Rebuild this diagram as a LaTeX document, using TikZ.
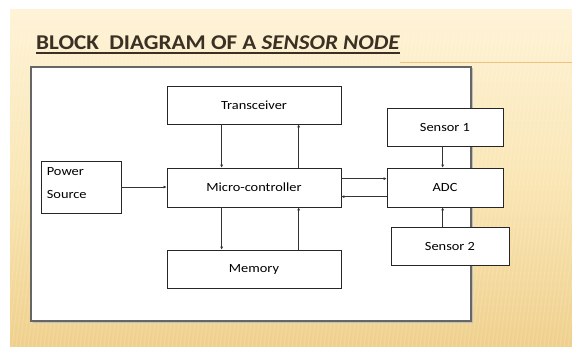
\documentclass[tikz,border=0pt]{standalone}
\usepackage{fontspec}
\setmainfont{Carlito}
\newfontfamily\boxfont[FakeStretch=1.15]{Carlito}
\newfontfamily\titlefont[FakeStretch=1.1]{Carlito}
\usetikzlibrary{arrows.meta,calc}
\definecolor{bgtop}{HTML}{FEF3D6}
\definecolor{bgmid}{HTML}{FAE6B4}
\definecolor{bgbot}{HTML}{EFD08C}
\definecolor{titlecol}{HTML}{3A3024}
\definecolor{rulecol}{HTML}{EEC27A}
\begin{document}
\begin{tikzpicture}[x=1pt,y=-1pt,
  box/.style={draw=black!85, line width=0.7pt, fill=white, inner sep=0pt,
    font=\boxfont\fontsize{12.5}{15}\selectfont},
  arr/.style={line width=0.6pt, draw=black!80, -{Latex[length=3pt,width=3pt]}}]
\useasboundingbox (0,0) rectangle (572,347);
\fill[white] (0,0) rectangle (572,347);
% background
\shade[top color=bgtop, bottom color=bgbot, middle color=bgmid] (10,10) rectangle (572,347);
\begin{scope}
  \clip (10,10) rectangle (572,347);
  \foreach \i in {-100,-96,...,600} {
    \draw[white, opacity=0.14, line width=1.2pt] (\i,347) -- ++(40,-337);
  }
\end{scope}
\draw[rulecol, line width=0.8pt] (400,62.5) -- (572,62.5);
% title
\node[anchor=base west, inner sep=0pt, text=titlecol,
  font=\titlefont\bfseries\fontsize{21}{25}\selectfont] (title) at (36,50)
  {BLOCK\ \ DIAGRAM OF A \textit{SENSOR NODE}};
\draw[titlecol, line width=1.4pt] ([yshift=-3pt]title.base west) -- ([yshift=-3pt]title.base east);
% panel
\fill[black!25] (32.5,68.5) rectangle (472.5,322.5);
\draw[fill=white, draw=black!60, line width=1.2pt] (31,67) rectangle (471,321);
% boxes
\node[box, minimum width=174pt, minimum height=38pt] (tr) at (254,105) {Transceiver};
\node[box, minimum width=174pt, minimum height=39pt] (mc) at (254,187.5) {Micro-controller};
\node[box, minimum width=174pt, minimum height=38pt] (mem) at (254,269) {Memory};
\node[box, minimum width=80pt, minimum height=52pt] (ps) at (81,187) {};
\node[anchor=west, inner sep=0pt, font=\boxfont\fontsize{12.5}{15}\selectfont] (pst) at ([xshift=6pt,yshift=-11pt]ps.north west) {Power};
\node[anchor=west, inner sep=0pt, font=\boxfont\fontsize{12.5}{15}\selectfont] (pss) at ([xshift=6pt,yshift=-34pt]ps.north west) {Source};
\node[box, minimum width=116pt, minimum height=38pt] (s1) at (445,127) {Sensor 1};
\node[box, minimum width=116pt, minimum height=39pt] (adc) at (445,187.5) {ADC};
\node[box, minimum width=118pt, minimum height=38pt] (s2) at (450,246) {Sensor 2};
% connectors
\draw[arr] ([xshift=55pt]tr.south west) -- ([xshift=55pt]mc.north west);
\draw[arr] ([xshift=132pt]mc.north west) -- ([xshift=132pt]tr.south west);
\draw[arr] ([xshift=55pt]mc.south west) -- ([xshift=55pt]mem.north west);
\draw[arr] ([xshift=132pt]mem.north west) -- ([xshift=132pt]mc.south west);
\draw[arr] (ps.east) -- (ps.east -| mc.west);
\draw[arr] ([yshift=-11pt]mc.north east) -- ([yshift=-11pt]adc.north west);
\draw[arr] ([yshift=-29pt]adc.north west) -- ([yshift=-29pt]mc.north east);
\draw[arr] ([xshift=56pt]s1.south west) -- ([xshift=56pt]adc.north west);
\coordinate (adcb) at ([xshift=56pt]adc.south west);
\draw[arr] (s2.north -| adcb) -- (adcb);
\end{tikzpicture}
\end{document}
